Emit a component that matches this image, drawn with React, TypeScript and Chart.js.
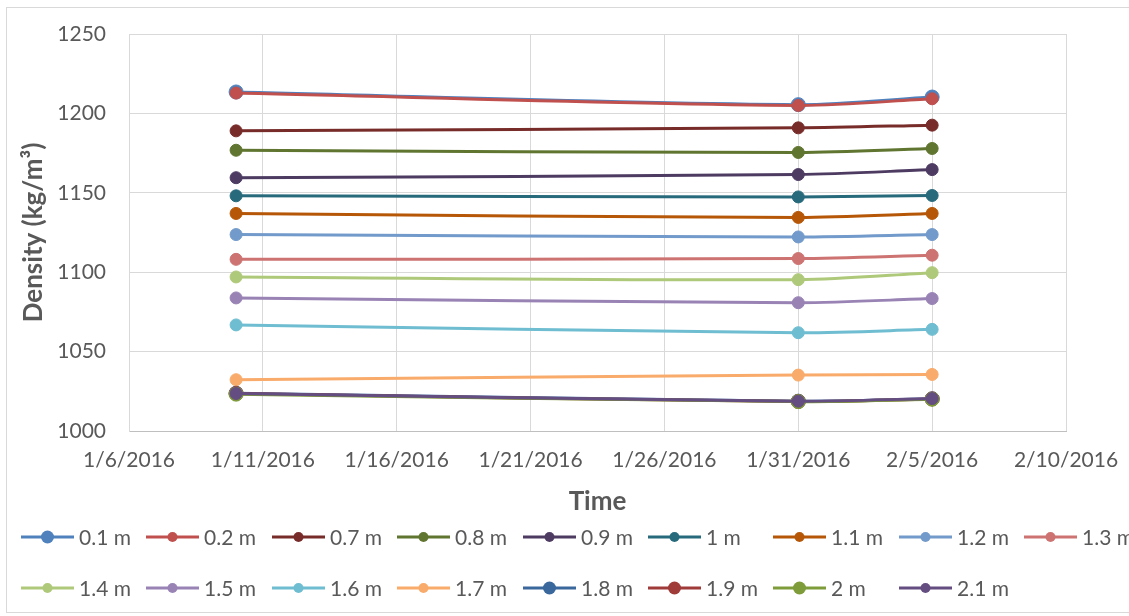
import { useEffect, useRef } from 'react';
import { Chart, registerables } from 'chart.js';

Chart.register(...registerables);

// ---- data ----
const sampleDates = ['1/10/2016', '1/31/2016', '2/5/2016'];
const xTickLabels = ['1/6/2016', '1/11/2016', '1/16/2016', '1/21/2016', '1/26/2016', '1/31/2016', '2/5/2016', '2/10/2016'];
const yMin = 1000;
const yMax = 1250;
const yStep = 50;

const seriesNames = ['0.1 m', '0.2 m', '0.7 m', '0.8 m', '0.9 m', '1 m', '1.1 m', '1.2 m', '1.3 m', '1.4 m', '1.5 m', '1.6 m', '1.7 m', '1.8 m', '1.9 m', '2 m', '2.1 m'];

const d01 = [1213.5, 1205.5, 1210.3];
const d02 = [1212.8, 1205.0, 1209.2];
const d07 = [1189.0, 1190.9, 1192.6];
const d08 = [1176.8, 1175.4, 1177.9];
const d09 = [1159.5, 1161.5, 1164.6];
const d10 = [1148.1, 1147.4, 1148.3];
const d11 = [1137.0, 1134.5, 1137.0];
const d12 = [1123.7, 1122.2, 1123.7];
const d13 = [1108.1, 1108.6, 1110.7];
const d14 = [1097.0, 1095.3, 1099.7];
const d15 = [1083.8, 1080.8, 1083.4];
const d16 = [1066.8, 1061.9, 1064.0];
const d17 = [1032.3, 1035.2, 1035.6];
const d18 = [1023.8, 1018.8, 1020.3];
const d19 = [1023.6, 1018.6, 1020.2];
const d20 = [1023.2, 1018.5, 1020.0];
const d21 = [1023.6, 1018.8, 1020.4];

const seriesValues = [d01, d02, d07, d08, d09, d10, d11, d12, d13, d14, d15, d16, d17, d18, d19, d20, d21];

// ---- styles ----
const seriesColors = ['#4F81BD', '#C0504D', '#772C2A', '#5F7530', '#4D3B62', '#276A7C', '#B65708', '#729ACA', '#CD7371', '#AFC97A', '#9983B5', '#6FBDD1', '#F9AB6B', '#3A679C', '#9F3B38', '#7E9D3A', '#644D80'];
const bigMarker = [true, false, false, false, false, false, false, false, false, false, false, false, false, true, true, true, false];

const TEXT = '#595959';
const FONT = 'Lato, "Open Sans", sans-serif';

function dayNumber(s: string): number {
  const [m, d, y] = s.split('/').map(Number);
  return Date.UTC(y, m - 1, d) / 86400000;
}

const LEGEND_X0 = 21;
const LEGEND_STEP = 125.4;
const LEGEND_PER_ROW = 9;
const legendRows = [537, 588];

const excelLegend = {
  id: 'excelLegend',
  beforeDraw(chart: any) {
    const ctx = chart.ctx;
    ctx.save();
    ctx.strokeStyle = '#D9D9D9';
    ctx.lineWidth = 1;
    ctx.strokeRect(6.5, 7.5, 1400, 605);
    ctx.restore();
  },
  afterDraw(chart: any) {
    const ctx = chart.ctx;
    ctx.save();
    chart.data.datasets.forEach((ds: any, i: number) => {
      const row = Math.floor(i / LEGEND_PER_ROW);
      const col = i % LEGEND_PER_ROW;
      const x = Math.round(LEGEND_X0 + col * LEGEND_STEP);
      const y = legendRows[row];
      ctx.strokeStyle = ds.borderColor;
      ctx.lineWidth = 3;
      ctx.beginPath();
      ctx.moveTo(x, y);
      ctx.lineTo(x + 53, y);
      ctx.stroke();
      ctx.fillStyle = ds.borderColor;
      ctx.beginPath();
      ctx.arc(x + 26.5, y, bigMarker[i] ? 6.5 : 5, 0, Math.PI * 2);
      ctx.fill();
      ctx.fillStyle = TEXT;
      ctx.font = '21px ' + FONT;
      ctx.textBaseline = 'middle';
      ctx.textAlign = 'left';
      ctx.fillText(seriesNames[i], x + 58, y + 1);
    });
    ctx.restore();
  },
};

export default function App() {
  const ref = useRef<HTMLCanvasElement | null>(null);

  useEffect(() => {
    if (!ref.current) return;
    const xs = sampleDates.map(dayNumber);
    const tickValues = xTickLabels.map(dayNumber);
    const datasets = seriesNames.map((name, i) => ({
      label: name,
      data: seriesValues[i].map((v, j) => ({ x: xs[j], y: v })),
      borderColor: seriesColors[i],
      backgroundColor: seriesColors[i],
      pointBackgroundColor: seriesColors[i],
      pointBorderColor: seriesColors[i],
      pointRadius: bigMarker[i] ? 7 : 6,
      pointBorderWidth: 1,
      borderWidth: 3,
      tension: 0.3,
      fill: false,
      order: seriesNames.length - i,
    }));

    const chart = new Chart(ref.current, {
      type: 'line',
      data: { datasets },
      plugins: [excelLegend],
      options: {
        animation: false,
        responsive: true,
        maintainAspectRatio: false,
        layout: { padding: { top: 34, right: 63, left: 0, bottom: 0 } },
        plugins: { legend: { display: false }, tooltip: { enabled: false } },
        scales: {
          x: {
            type: 'linear',
            min: tickValues[0],
            max: tickValues[tickValues.length - 1],
            afterBuildTicks: (scale: any) => {
              scale.ticks = tickValues.map((v) => ({ value: v }));
            },
            afterFit: (scale: any) => {
              scale.height = 185;
              scale.paddingLeft = 0;
              scale.paddingRight = 0;
            },
            grid: { color: '#D9D9D9', drawTicks: false, lineWidth: 1 },
            border: { color: '#BFBFBF', width: 1 },
            ticks: {
              padding: 17,
              color: TEXT,
              font: { family: FONT, size: 21 },
              maxRotation: 0,
              autoSkip: false,
              callback: (_v: any, idx: number) => xTickLabels[idx],
            },
            title: {
              display: true,
              text: 'Time',
              color: TEXT,
              font: { family: FONT, size: 26, weight: 'bold' },
              padding: { top: 0, bottom: 99 },
            },
          },
          y: {
            min: yMin,
            max: yMax,
            afterFit: (scale: any) => {
              scale.width = 129;
              scale.paddingTop = 0;
              scale.paddingBottom = 0;
            },
            grid: { color: '#D9D9D9', drawTicks: false, lineWidth: 1 },
            border: { color: '#D9D9D9', width: 1 },
            ticks: {
              stepSize: yStep,
              padding: 23,
              color: TEXT,
              font: { family: FONT, size: 21 },
              callback: (v: any) => String(v),
            },
            title: {
              display: true,
              text: 'Density (kg/m³)',
              color: TEXT,
              font: { family: FONT, size: 26, weight: 'bold' },
              padding: { top: 18, bottom: 0 },
            },
          },
        },
      } as any,
    });
    return () => chart.destroy();
  }, []);

  return (
    <div style={{ position: 'absolute', left: 0, top: 0, width: 1129, height: 616, background: '#fff' }}>
      <canvas ref={ref} />
    </div>
  );
}
